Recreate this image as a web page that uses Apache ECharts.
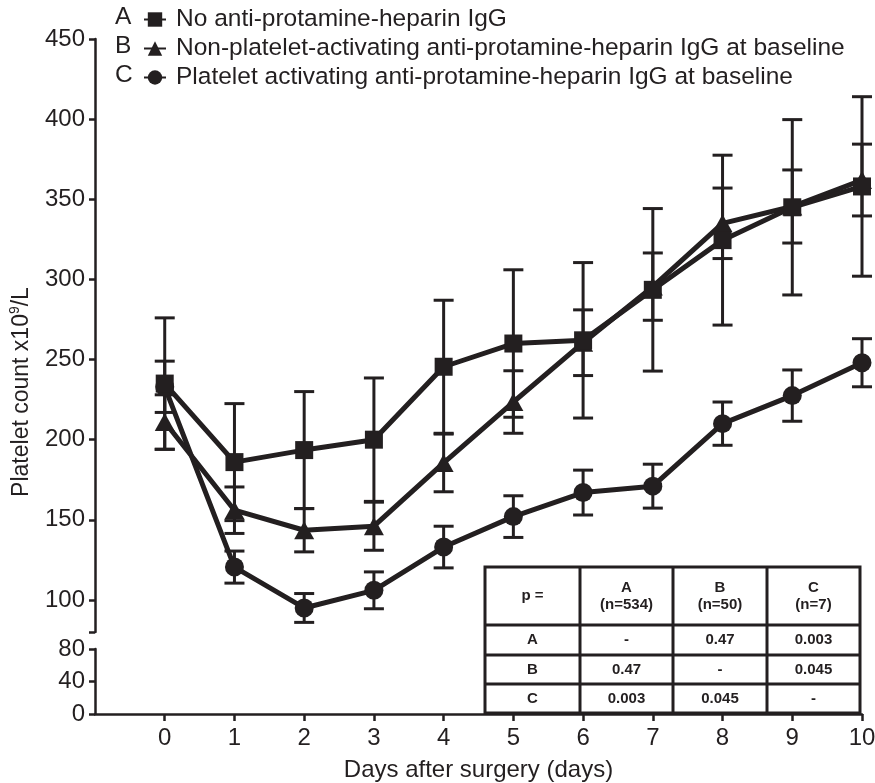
<!DOCTYPE html>
<html>
<head>
<meta charset="utf-8">
<script src="https://cdn.jsdelivr.net/npm/echarts@6/dist/echarts.min.js"></script>
<style>html,body{margin:0;padding:0;background:#fff}#c{width:875px;height:783px}</style>
</head>
<body>
<div id="c"></div>
<script>
// ---- data ----
const days = [0, 1, 2, 3, 4, 5, 6, 7, 8, 9, 10];
const seriesNames = [
  'No anti-protamine-heparin IgG',
  'Non-platelet-activating anti-protamine-heparin IgG at baseline',
  'Platelet activating anti-protamine-heparin IgG at baseline'
];
const groupLetters = ['A', 'B', 'C'];
const meanA = [235, 186, 193.5, 200, 245.5, 260, 262, 293.5, 324.5, 345, 358];
const sdA   = [41, 36.5, 36.5, 38.5, 41.5, 46, 48.5, 50.7, 53, 54.7, 56];
const meanB = [211, 156, 143.5, 146, 185.5, 223.5, 260.5, 295.5, 335, 345.5, 362];
const sdB   = [17, 14.5, 13.5, 15, 18, 19.5, 20.5, 21, 22, 22.8, 22.4];
const meanC = [233, 120.5, 95, 106, 133, 152, 167, 171, 210, 227.5, 248];
const sdC   = [16, 10, 9, 11.5, 13, 13, 14, 13.7, 13.5, 16, 15];
const upperTicks = [100, 150, 200, 250, 300, 350, 400, 450];
const lowerTicks = [0, 40, 80];
const xTicks = [0, 1, 2, 3, 4, 5, 6, 7, 8, 9, 10];
const tableHeader = ['p =', 'A\n(n=534)', 'B\n(n=50)', 'C\n(n=7)'];
const tableRows = [
  ['A', '-', '0.47', '0.003'],
  ['B', '0.47', '-', '0.045'],
  ['C', '0.003', '0.045', '-']
];

// ---- chart ----
const INK = '#231f20';
const FONT = '"Liberation Sans", Arial, Helvetica, sans-serif';
const chart = echarts.init(document.getElementById('c'), null, {renderer: 'canvas'});

const means = [meanA, meanB, meanC];
const sds = [sdA, sdB, sdC];
const symbols = ['rect', 'triangle', 'circle'];
const symbolSizes = [18, [20, 18], 19];

function errRender(params, api) {
  const x = api.value(0), m = api.value(1), s = api.value(2);
  const top = api.coord([x, m + s]);
  const bot = api.coord([x, m - s]);
  const hw = 10;
  const st = {stroke: INK, lineWidth: 3};
  return {type: 'group', children: [
    {type: 'line', shape: {x1: top[0], y1: top[1], x2: bot[0], y2: bot[1]}, style: st},
    {type: 'line', shape: {x1: top[0] - hw, y1: top[1], x2: top[0] + hw, y2: top[1]}, style: st},
    {type: 'line', shape: {x1: bot[0] - hw, y1: bot[1], x2: bot[0] + hw, y2: bot[1]}, style: st}
  ]};
}

const series = [];
[2, 1, 0].forEach(function (g) {
  series.push({
    type: 'custom', name: 'err' + g, xAxisIndex: 0, yAxisIndex: 0, z: 1,
    renderItem: errRender, encode: {x: 0, y: 1},
    data: days.map(function (d, i) { return [d, means[g][i], sds[g][i]]; }),
    silent: true
  });
});
[2, 1, 0].forEach(function (g) {
  series.push({
    type: 'line', name: seriesNames[g], xAxisIndex: 0, yAxisIndex: 0, z: 3 + (2 - g),
    symbol: symbols[g], symbolSize: symbolSizes[g], showSymbol: true,
    lineStyle: {color: INK, width: 5}, itemStyle: {color: INK},
    data: days.map(function (d, i) { return [d, means[g][i]]; })
  });
});

// table graphic
const colX = [485, 580, 673, 767, 860];
const rowY = [567, 625, 655, 684, 713];
const tbl = [];
tbl.push({type: 'rect', shape: {x: colX[0], y: rowY[0], width: colX[4] - colX[0], height: rowY[4] - rowY[0]},
  style: {fill: '#fff', stroke: INK, lineWidth: 3}, z: 10});
for (let i = 1; i < 4; i++) {
  tbl.push({type: 'line', shape: {x1: colX[i], y1: rowY[0], x2: colX[i], y2: rowY[4]}, style: {stroke: INK, lineWidth: 3}, z: 11});
  tbl.push({type: 'line', shape: {x1: colX[0], y1: rowY[i], x2: colX[4], y2: rowY[i]}, style: {stroke: INK, lineWidth: 3}, z: 11});
}
const allRows = [tableHeader].concat(tableRows);
allRows.forEach(function (row, r) {
  row.forEach(function (txt, c) {
    tbl.push({type: 'text', z: 12,
      x: (colX[c] + colX[c + 1]) / 2, y: (rowY[r] + rowY[r + 1]) / 2,
      style: {text: txt, align: 'center', verticalAlign: 'middle', fill: INK,
        font: 'bold 15px ' + FONT, lineHeight: 17}});
  });
});

const letterG = groupLetters.map(function (l, i) {
  return {type: 'text', x: 115, y: 17 + i * 29,
    style: {text: l, fill: INK, font: '24.5px ' + FONT, verticalAlign: 'middle', align: 'left'}};
});

const yTitle = {type: 'text', x: 22, y: 392, rotation: Math.PI / 2,
  style: {text: 'Platelet count x10{sup|9}/L', align: 'center', verticalAlign: 'middle', fill: INK,
    fontSize: 23, fontFamily: FONT, lineHeight: 28,
    rich: {sup: {fontSize: 14, fontFamily: FONT, verticalAlign: 'top', lineHeight: 28, fill: INK}}}};

const axisTxt = {color: INK, fontSize: 24, fontFamily: FONT};

chart.setOption({
  animation: false,
  backgroundColor: '#fff',
  grid: [
    {left: 95, right: 13, top: 39, bottom: 151, containLabel: false, outerBoundsMode: 'none'},
    {left: 95, right: 13, top: 649, bottom: 69, containLabel: false, outerBoundsMode: 'none'}
  ],
  legend: {
    data: seriesNames, orient: 'vertical', left: 138, top: 2,
    itemWidth: 22, itemHeight: 18, itemGap: 4,
    textStyle: {color: INK, fontSize: 24.5, fontFamily: FONT, lineHeight: 20, padding: [0, 0, 0, 5]},
    selectedMode: false
  },
  xAxis: [
    {type: 'value', gridIndex: 0, min: -1, max: 10, show: false},
    {type: 'value', gridIndex: 1, min: -1, max: 10,
      name: 'Days after surgery (days)', nameLocation: 'middle', nameGap: 44,
      nameTextStyle: axisTxt,
      axisLine: {show: true, onZero: false, lineStyle: {color: INK, width: 2.5}},
      axisTick: {show: true, length: 7, lineStyle: {color: INK, width: 2.5}, customValues: xTicks},
      axisLabel: {show: true, margin: 12, customValues: xTicks, ...axisTxt},
      splitLine: {show: false}}
  ],
  yAxis: [
    {type: 'value', gridIndex: 0, min: 80, max: 450,
      axisLine: {show: true, onZero: false, lineStyle: {color: INK, width: 2.5}},
      axisTick: {show: true, length: 6, lineStyle: {color: INK, width: 2.5}, customValues: [80].concat(upperTicks)},
      axisLabel: {show: true, margin: 10, customValues: upperTicks, ...axisTxt},
      splitLine: {show: false}},
    {type: 'value', gridIndex: 1, min: 0, max: 80, interval: 40,
      axisLine: {show: true, onZero: false, lineStyle: {color: INK, width: 2.5}},
      axisTick: {show: true, length: 6, lineStyle: {color: INK, width: 2.5}, customValues: lowerTicks},
      axisLabel: {show: true, margin: 10, customValues: lowerTicks, ...axisTxt},
      splitLine: {show: false}}
  ],
  graphic: [yTitle].concat(letterG).concat(tbl),
  series: series
});
</script>
</body>
</html>
